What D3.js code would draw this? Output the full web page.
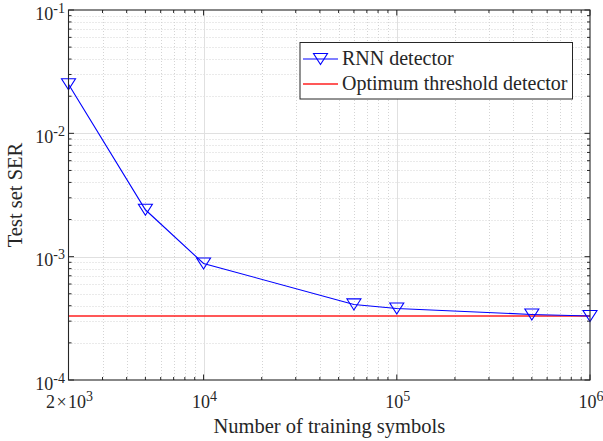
<!DOCTYPE html>
<html><head><meta charset="utf-8">
<script src="https://cdn.jsdelivr.net/npm/d3@7"></script>
<style>body{margin:0;background:#fff}svg{display:block}text{font-family:"Liberation Serif","Times New Roman",serif;fill:#262626}</style>
</head><body>
<script>
// ---- data ----
const trainingSymbols = [2000, 5000, 10000, 60000, 100000, 500000, 1000000];
const rnnSER = [0.025, 0.0024, 0.00088, 0.00041, 0.00038, 0.00034, 0.00033];
const optimumSER = 0.00033;
const xMajorTicks = [2000, 10000, 100000, 1000000];
const xTickLabels = [["2\u200a\u00d7\u200a10", "3"], ["10", "4"], ["10", "5"], ["10", "6"]];
const yMajorTicks = [1e-4, 1e-3, 1e-2, 1e-1];
const yTickLabels = [["10", "-4"], ["10", "-3"], ["10", "-2"], ["10", "-1"]];
const seriesNames = ["RNN detector", "Optimum threshold detector"];

const W = 603, H = 441;
const L = 68.5, R = 590, T = 10, B = 380;
const svg = d3.select("body").append("svg").attr("width", W).attr("height", H);
const x = d3.scaleLog().domain([2000, 1e6]).range([L, R]);
const y = d3.scaleLog().domain([1e-4, 1e-1]).range([B, T]);

// minor values
const xMinor = [], yMinor = [];
for (let e = 3; e <= 5; e++) for (let m = 2; m <= 9; m++) { const v = m * Math.pow(10, e); if (v > 2000 && v < 1e6) xMinor.push(v); }
for (let e = -4; e <= -2; e++) for (let m = 2; m <= 9; m++) yMinor.push(m * Math.pow(10, e));

const g = svg.append("g");
// minor grid
g.selectAll(".xmg").data(xMinor).enter().append("line")
  .attr("x1", d => Math.round(x(d)) + 0.5).attr("x2", d => Math.round(x(d)) + 0.5).attr("y1", T).attr("y2", B)
  .attr("stroke", "#d4d4d4").attr("stroke-width", 1).attr("stroke-dasharray", "1,2");
g.selectAll(".ymg").data(yMinor).enter().append("line")
  .attr("y1", d => Math.round(y(d)) + 0.5).attr("y2", d => Math.round(y(d)) + 0.5).attr("x1", L).attr("x2", R)
  .attr("stroke", "#d4d4d4").attr("stroke-width", 1).attr("stroke-dasharray", "1,2");
// major grid
g.selectAll(".xMg").data([1e4, 1e5]).enter().append("line")
  .attr("x1", d => Math.round(x(d)) + 0.5).attr("x2", d => Math.round(x(d)) + 0.5).attr("y1", T).attr("y2", B)
  .attr("stroke", "#e0e0e0").attr("stroke-width", 1);
g.selectAll(".yMg").data([1e-3, 1e-2]).enter().append("line")
  .attr("y1", d => Math.round(y(d)) + 0.5).attr("y2", d => Math.round(y(d)) + 0.5).attr("x1", L).attr("x2", R)
  .attr("stroke", "#e0e0e0").attr("stroke-width", 1);

// inward ticks on all four sides
function tickLines(vals, len, horizontal) {
  vals.forEach(v => {
    if (horizontal) {
      const px = x(v);
      g.append("line").attr("x1", px).attr("x2", px).attr("y1", B).attr("y2", B - len).attr("stroke", "#262626");
      g.append("line").attr("x1", px).attr("x2", px).attr("y1", T).attr("y2", T + len).attr("stroke", "#262626");
    } else {
      const py = y(v);
      g.append("line").attr("y1", py).attr("y2", py).attr("x1", L).attr("x2", L + len).attr("stroke", "#262626");
      g.append("line").attr("y1", py).attr("y2", py).attr("x1", R).attr("x2", R - len).attr("stroke", "#262626");
    }
  });
}
tickLines(xMajorTicks, 5.5, true);
tickLines(xMinor, 3, true);
tickLines(yMajorTicks, 5.5, false);
tickLines(yMinor, 3, false);

// series
svg.append("line").attr("x1", L).attr("x2", R).attr("y1", y(optimumSER)).attr("y2", y(optimumSER))
  .attr("stroke", "#ff2020").attr("stroke-width", 1.4);
svg.append("path").datum(trainingSymbols.map((v, i) => [v, rnnSER[i]]))
  .attr("d", d3.line().x(d => x(d[0])).y(d => y(d[1])))
  .attr("fill", "none").attr("stroke", "#0000ff").attr("stroke-width", 1.1);
const tri = "M-7,-5.5L7,-5.5L0,5.5Z";
svg.selectAll(".mk").data(trainingSymbols.map((v, i) => [v, rnnSER[i]])).enter().append("path")
  .attr("transform", d => `translate(${x(d[0])},${y(d[1])})`).attr("d", tri)
  .attr("fill", "none").attr("stroke", "#0000ff").attr("stroke-width", 1.1);

// box
svg.append("rect").attr("x", L).attr("y", T).attr("width", R - L).attr("height", B - T)
  .attr("fill", "none").attr("stroke", "#262626").attr("stroke-width", 1.1);

// tick labels
xMajorTicks.forEach((v, i) => {
  const t = svg.append("text").attr("x", x(v) + 1).attr("y", 408).attr("text-anchor", "middle").style("font-size", "18px");
  t.append("tspan").text(xTickLabels[i][0]);
  t.append("tspan").attr("dy", -7).style("font-size", "14px").text(xTickLabels[i][1]);
});
yMajorTicks.forEach((v, i) => {
  const t = svg.append("text").attr("x", 65).attr("y", y(v) + 9.5).attr("text-anchor", "end").style("font-size", "18px");
  t.append("tspan").text(yTickLabels[i][0]);
  t.append("tspan").attr("dy", -7).style("font-size", "14px").text(yTickLabels[i][1]);
});

// axis labels
svg.append("text").attr("x", (L + R) / 2).attr("y", 433).attr("text-anchor", "middle").style("font-size", "20.5px").text("Number of training symbols");
svg.append("text").attr("transform", `translate(22,${(T + B) / 2}) rotate(-90)`).attr("text-anchor", "middle").style("font-size", "20.5px").text("Test set SER");

// legend
const lg = svg.append("g");
lg.append("rect").attr("x", 300).attr("y", 42.5).attr("width", 272.5).attr("height", 56.5)
  .attr("fill", "#fff").attr("stroke", "#262626").attr("stroke-width", 1);
lg.append("line").attr("x1", 303).attr("x2", 338).attr("y1", 59).attr("y2", 59).attr("stroke", "#0000ff").attr("stroke-width", 1.1);
lg.append("path").attr("transform", "translate(320.5,59)").attr("d", tri).attr("fill", "none").attr("stroke", "#0000ff").attr("stroke-width", 1.1);
lg.append("line").attr("x1", 303).attr("x2", 338).attr("y1", 84).attr("y2", 84).attr("stroke", "#ff2020").attr("stroke-width", 1.4);
lg.append("text").attr("x", 342).attr("y", 65).style("font-size", "20px").text(seriesNames[0]);
lg.append("text").attr("x", 342).attr("y", 90).style("font-size", "20px").text(seriesNames[1]);
</script>
</body></html>
